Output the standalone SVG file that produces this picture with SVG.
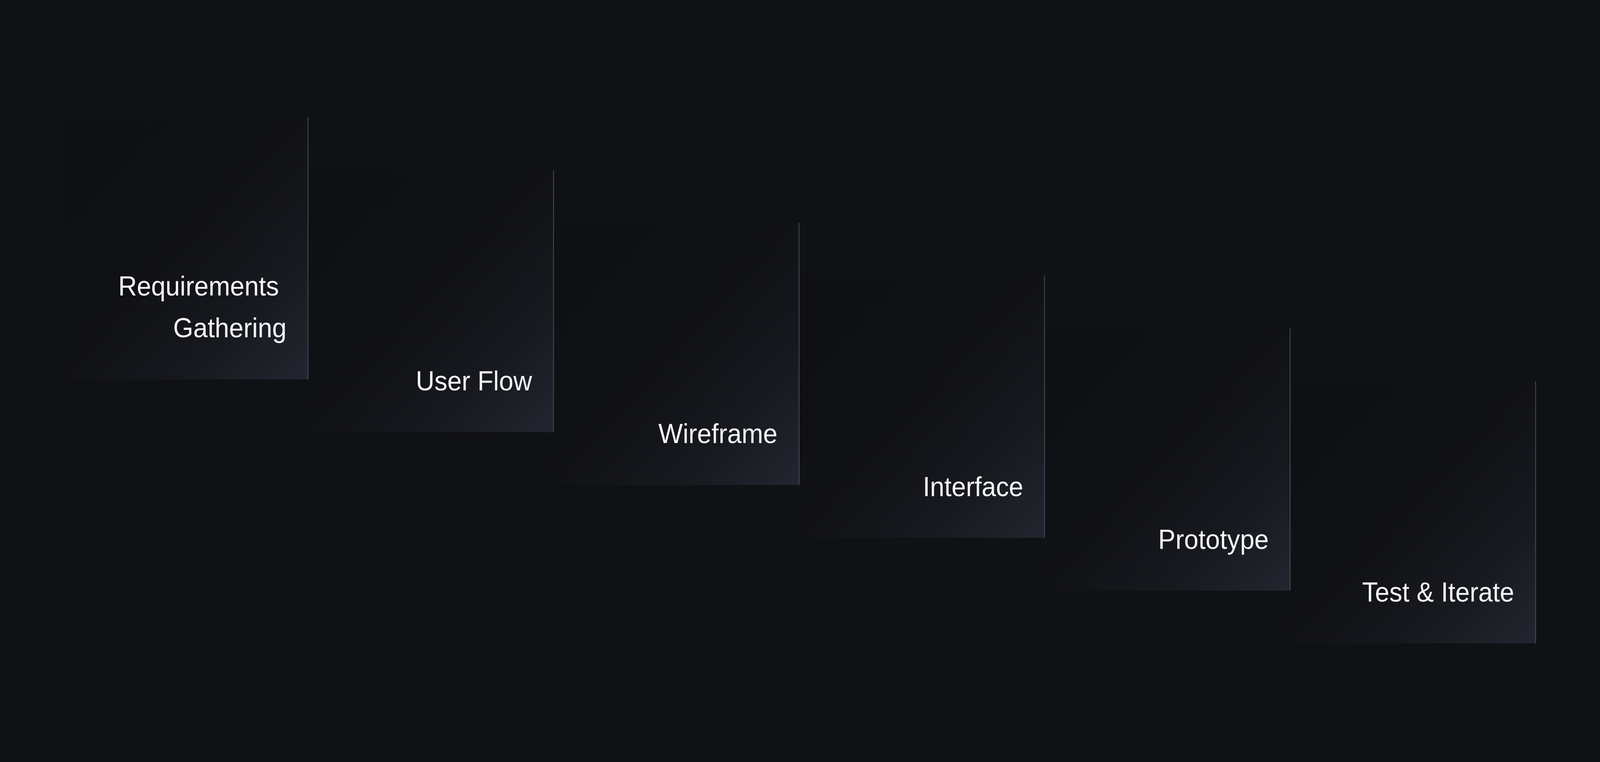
<svg xmlns="http://www.w3.org/2000/svg" width="4400" height="1952" viewBox="0 0 4400 1952" preserveAspectRatio="none">
<defs>
<linearGradient id="card" x1="0" y1="0" x2="1" y2="1">
<stop offset="0" stop-color="#0f1013"/>
<stop offset="0.45" stop-color="#101115"/>
<stop offset="0.75" stop-color="#17191f"/>
<stop offset="1" stop-color="#22262f"/>
</linearGradient>
<style>
:root{width:100vw;height:100vh;background:#101114}
.card{fill:url(#card)}
.edge{stroke:#4a4f5b;stroke-width:2}
.lbl{font-family:"Liberation Sans",Arial,Helvetica,sans-serif;font-size:71px;fill:#f4f5f9;text-anchor:end}
</style>
</defs>
<rect width="4400" height="1952" fill="#101114"/>
<g id="connectors"/>
<g id="n1">
<rect class="card" x="176" y="300" width="672" height="672"/>
<line class="edge" x1="847" y1="300" x2="847" y2="972"/>
<text class="lbl"><tspan x="767" y="757">Requirements</tspan><tspan x="788" y="864">Gathering</tspan></text>
</g>
<g id="n2">
<rect class="card" x="851.2" y="435.2" width="672" height="672"/>
<line class="edge" x1="1522.2" y1="435.2" x2="1522.2" y2="1107.2"/>
<text class="lbl" x="1463" y="1000">User Flow</text>
</g>
<g id="n3">
<rect class="card" x="1526.4" y="570.4" width="672" height="672"/>
<line class="edge" x1="2197.4" y1="570.4" x2="2197.4" y2="1242.4"/>
<text class="lbl" x="2138" y="1135">Wireframe</text>
</g>
<g id="n4">
<rect class="card" x="2201.6" y="705.6" width="672" height="672"/>
<line class="edge" x1="2872.6" y1="705.6" x2="2872.6" y2="1377.6"/>
<text class="lbl" x="2814" y="1271">Interface</text>
</g>
<g id="n5">
<rect class="card" x="2876.8" y="840.8" width="672" height="672"/>
<line class="edge" x1="3547.8" y1="840.8" x2="3547.8" y2="1512.8"/>
<text class="lbl" x="3489" y="1406">Prototype</text>
</g>
<g id="n6">
<rect class="card" x="3552" y="976" width="672" height="672"/>
<line class="edge" x1="4223" y1="976" x2="4223" y2="1648"/>
<text class="lbl" x="4164" y="1541">Test &amp; Iterate</text>
</g>
</svg>
